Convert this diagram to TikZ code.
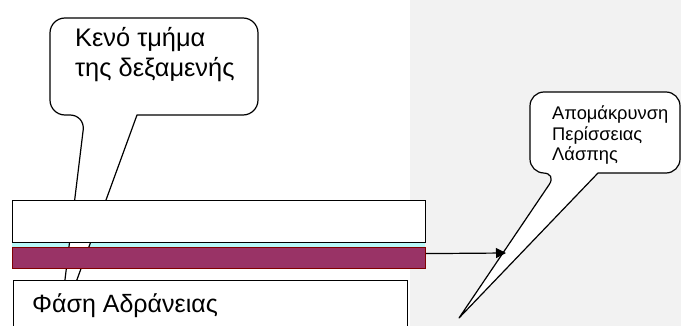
\documentclass[tikz,border=0pt]{standalone}
\usepackage{fontspec}
\setmainfont{Liberation Sans}
\usetikzlibrary{arrows.meta}
\definecolor{bggrey}{HTML}{F2F2F2}
\definecolor{sludge}{HTML}{993366}
\definecolor{sludgeedge}{HTML}{800000}
\definecolor{waterc}{HTML}{B8F8F8}
\tikzset{
  layerbox/.style={draw=black, line width=1.2pt, fill=white, inner sep=0pt, anchor=north west},
  callout/.style={draw=black, line width=1.2pt, fill=white, line join=round},
  bigtxt/.style={font=\fontsize{25.4}{30}\selectfont, align=left, inner sep=0pt, anchor=north west},
  smalltxt/.style={font=\fontsize{18.3}{20.5}\selectfont, align=left, inner sep=0pt, anchor=north west}
}
\begin{document}
\begin{tikzpicture}[x=1pt,y=-1pt]
\useasboundingbox (0,0) rectangle (681,326);
\fill[white] (0,0) rectangle (681,326);
\fill[bggrey] (410,0) rectangle (681,326);
% water strip
\node[fill=waterc, draw=none, inner sep=0pt, anchor=north west, minimum width=413pt, minimum height=6pt] (water) at (12,242) {};
% top callout
\draw[callout] (137,115) [rounded corners=15pt] -- (258,115) -- (258,18) -- (50,18) -- (50,115) -- (85,115) [sharp corners] -- (59,329) -- cycle;
\node[bigtxt] (emptytxt) at (75,27) {Κενό τμήμα\\της δεξαμενής};
% layers
\node[layerbox, minimum width=413pt, minimum height=42pt] (empty) at (12,200) {};
\node[draw=sludgeedge, line width=1.2pt, fill=sludge, inner sep=0pt, anchor=north west, minimum width=413pt, minimum height=21pt] (pink) at (12,247) {};
\node[layerbox, minimum width=394pt, minimum height=70pt] (rest) at (13,280) {};
\node[font=\fontsize{25}{30}\selectfont, anchor=west, inner sep=0pt] (resttxt) at (32,306) {Φάση Αδράνειας};
% right callout
\draw[callout] (598,173) [rounded corners=14pt] -- (680,173) -- (680,92) -- (530,92) -- (530,173) -- (557,173) [sharp corners] -- (459,318) -- cycle;
\node[smalltxt] (removetxt) at (552,106) {Απομάκρυνση\\Περίσσειας\\Λάσπης};
% arrow
\coordinate (arrowend) at (506,253);
\draw[line width=1.2pt, -{Triangle[length=10pt,width=10pt]}] ([yshift=4.5pt]pink.east) -- (arrowend);
\end{tikzpicture}
\end{document}
